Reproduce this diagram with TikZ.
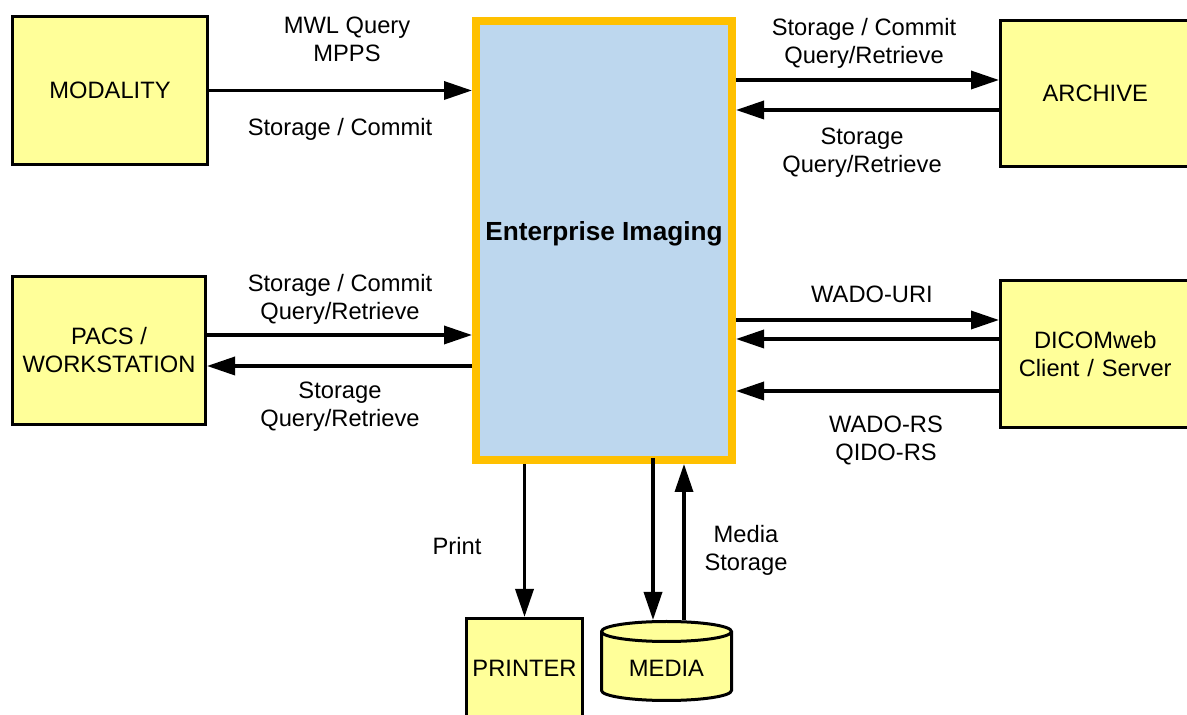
\documentclass[tikz,border=0pt]{standalone}
\usepackage{fontspec}
\setmainfont{Liberation Sans}
\usetikzlibrary{arrows.meta}
\definecolor{boxyellow}{HTML}{FFFF99}
\definecolor{eiblue}{HTML}{BDD7EE}
\definecolor{eiorange}{HTML}{FFC000}
\begin{document}
\begin{tikzpicture}[x=1pt,y=1pt,
  box/.style={draw=black, line width=3pt, fill=boxyellow, inner sep=0pt, align=center, font=\fontsize{23.7}{28}\selectfont},
  lbl/.style={inner sep=0pt, align=center, font=\fontsize{23.7}{28}\selectfont},
  arr/.style={line width=3.5pt, -{Triangle[length=28pt,width=18pt]}},
  cyl/.style={draw=black, line width=3pt, fill=boxyellow},
]
\useasboundingbox (0,0) rectangle (1187,715);
\clip (0,0) rectangle (1187,715);
\fill[white] (0,0) rectangle (1187,715);

% central box
\node[draw=eiorange, fill=eiblue, line width=8pt, minimum width=256pt, minimum height=439pt, inner sep=0pt] (ei) at (604,474.5) {};
\node[lbl, font=\fontsize{26.2}{30}\selectfont\bfseries] (eit) at (604,481.5) {Enterprise Imaging};

% outer boxes
\node[box, minimum width=195pt, minimum height=148pt] (mod) at (110,624.5) {MODALITY};
\node[box, minimum width=189.5pt, minimum height=146pt, text width=189.5pt] (arch) at (1095.25,621.5) {ARCHIVE};
\node[box, minimum width=193pt, minimum height=148pt] (pacs) at (109,364.5) {PACS /\\WORKSTATION};
\node[box, minimum width=189.5pt, minimum height=147pt, text width=189.5pt] (dic) at (1095.25,361) {DICOMweb\\Client / Server};
\node[box, minimum width=116pt, minimum height=99.5pt] (prn) at (524.5,46.75) {PRINTER};

% media cylinder
\filldraw[cyl] (601.5,83.5) -- (601.5,24.5) arc[start angle=180, end angle=360, x radius=65, y radius=10]
  -- (731.5,83.5) arc[start angle=0, end angle=180, x radius=65, y radius=10] -- cycle;
\draw[line width=3pt] (601.5,83.5) arc[start angle=180, end angle=360, x radius=65, y radius=10];
\node[lbl] (media) at (666.5,47) {MEDIA};
\coordinate (mt1) at (653,95);
\coordinate (mt2) at (684,95);

% connectors
\draw[arr] (mod.east) -- (mod.east -| ei.west);

\coordinate (a1) at ([yshift=13.5pt]arch.west);
\coordinate (a2) at ([yshift=-16.5pt]arch.west);
\draw[arr] (a1 -| ei.east) -- (a1);
\draw[arr] (a2) -- (a2 -| ei.east);

\coordinate (p1) at ([yshift=15.5pt]pacs.east);
\coordinate (p2) at ([yshift=-15.5pt]pacs.east);
\draw[arr] (p1) -- (p1 -| ei.west);
\draw[arr] (p2 -| ei.west) -- (p2);

\coordinate (d1) at ([yshift=34pt]dic.west);
\coordinate (d2) at ([yshift=15pt]dic.west);
\coordinate (d3) at ([yshift=-37pt]dic.west);
\draw[arr] (d1 -| ei.east) -- (d1);
\draw[arr] (d2) -- (d2 -| ei.east);
\draw[arr] (d3) -- (d3 -| ei.east);

\draw[arr] (prn.north |- ei.south) -- (prn.north);
\draw[arr] ([yshift=6pt]mt1 |- ei.south) -- (mt1);
\draw[arr] (mt2) -- (mt2 |- ei.south);

% labels
\node[lbl] (l1) at (347,676) {MWL Query\\MPPS};
\node[lbl] (l2) at (340,586) {Storage / Commit};
\node[lbl] (l3) at (864,672) {Storage / Commit\\Query/Retrieve};
\node[lbl] (l4) at (862,562.5) {Storage\\Query/Retrieve};
\node[lbl] (l5) at (340,416) {Storage / Commit\\Query/Retrieve};
\node[lbl] (l6) at (340,308) {Storage\\Query/Retrieve};
\node[lbl] (l7) at (872,421) {WADO-URI};
\node[lbl] (l8) at (886,274.5) {WADO-RS\\QIDO-RS};
\node[lbl] (l9) at (457,169) {Print};
\node[lbl] (l10) at (746,164.5) {Media\\Storage};
\end{tikzpicture}
\end{document}
